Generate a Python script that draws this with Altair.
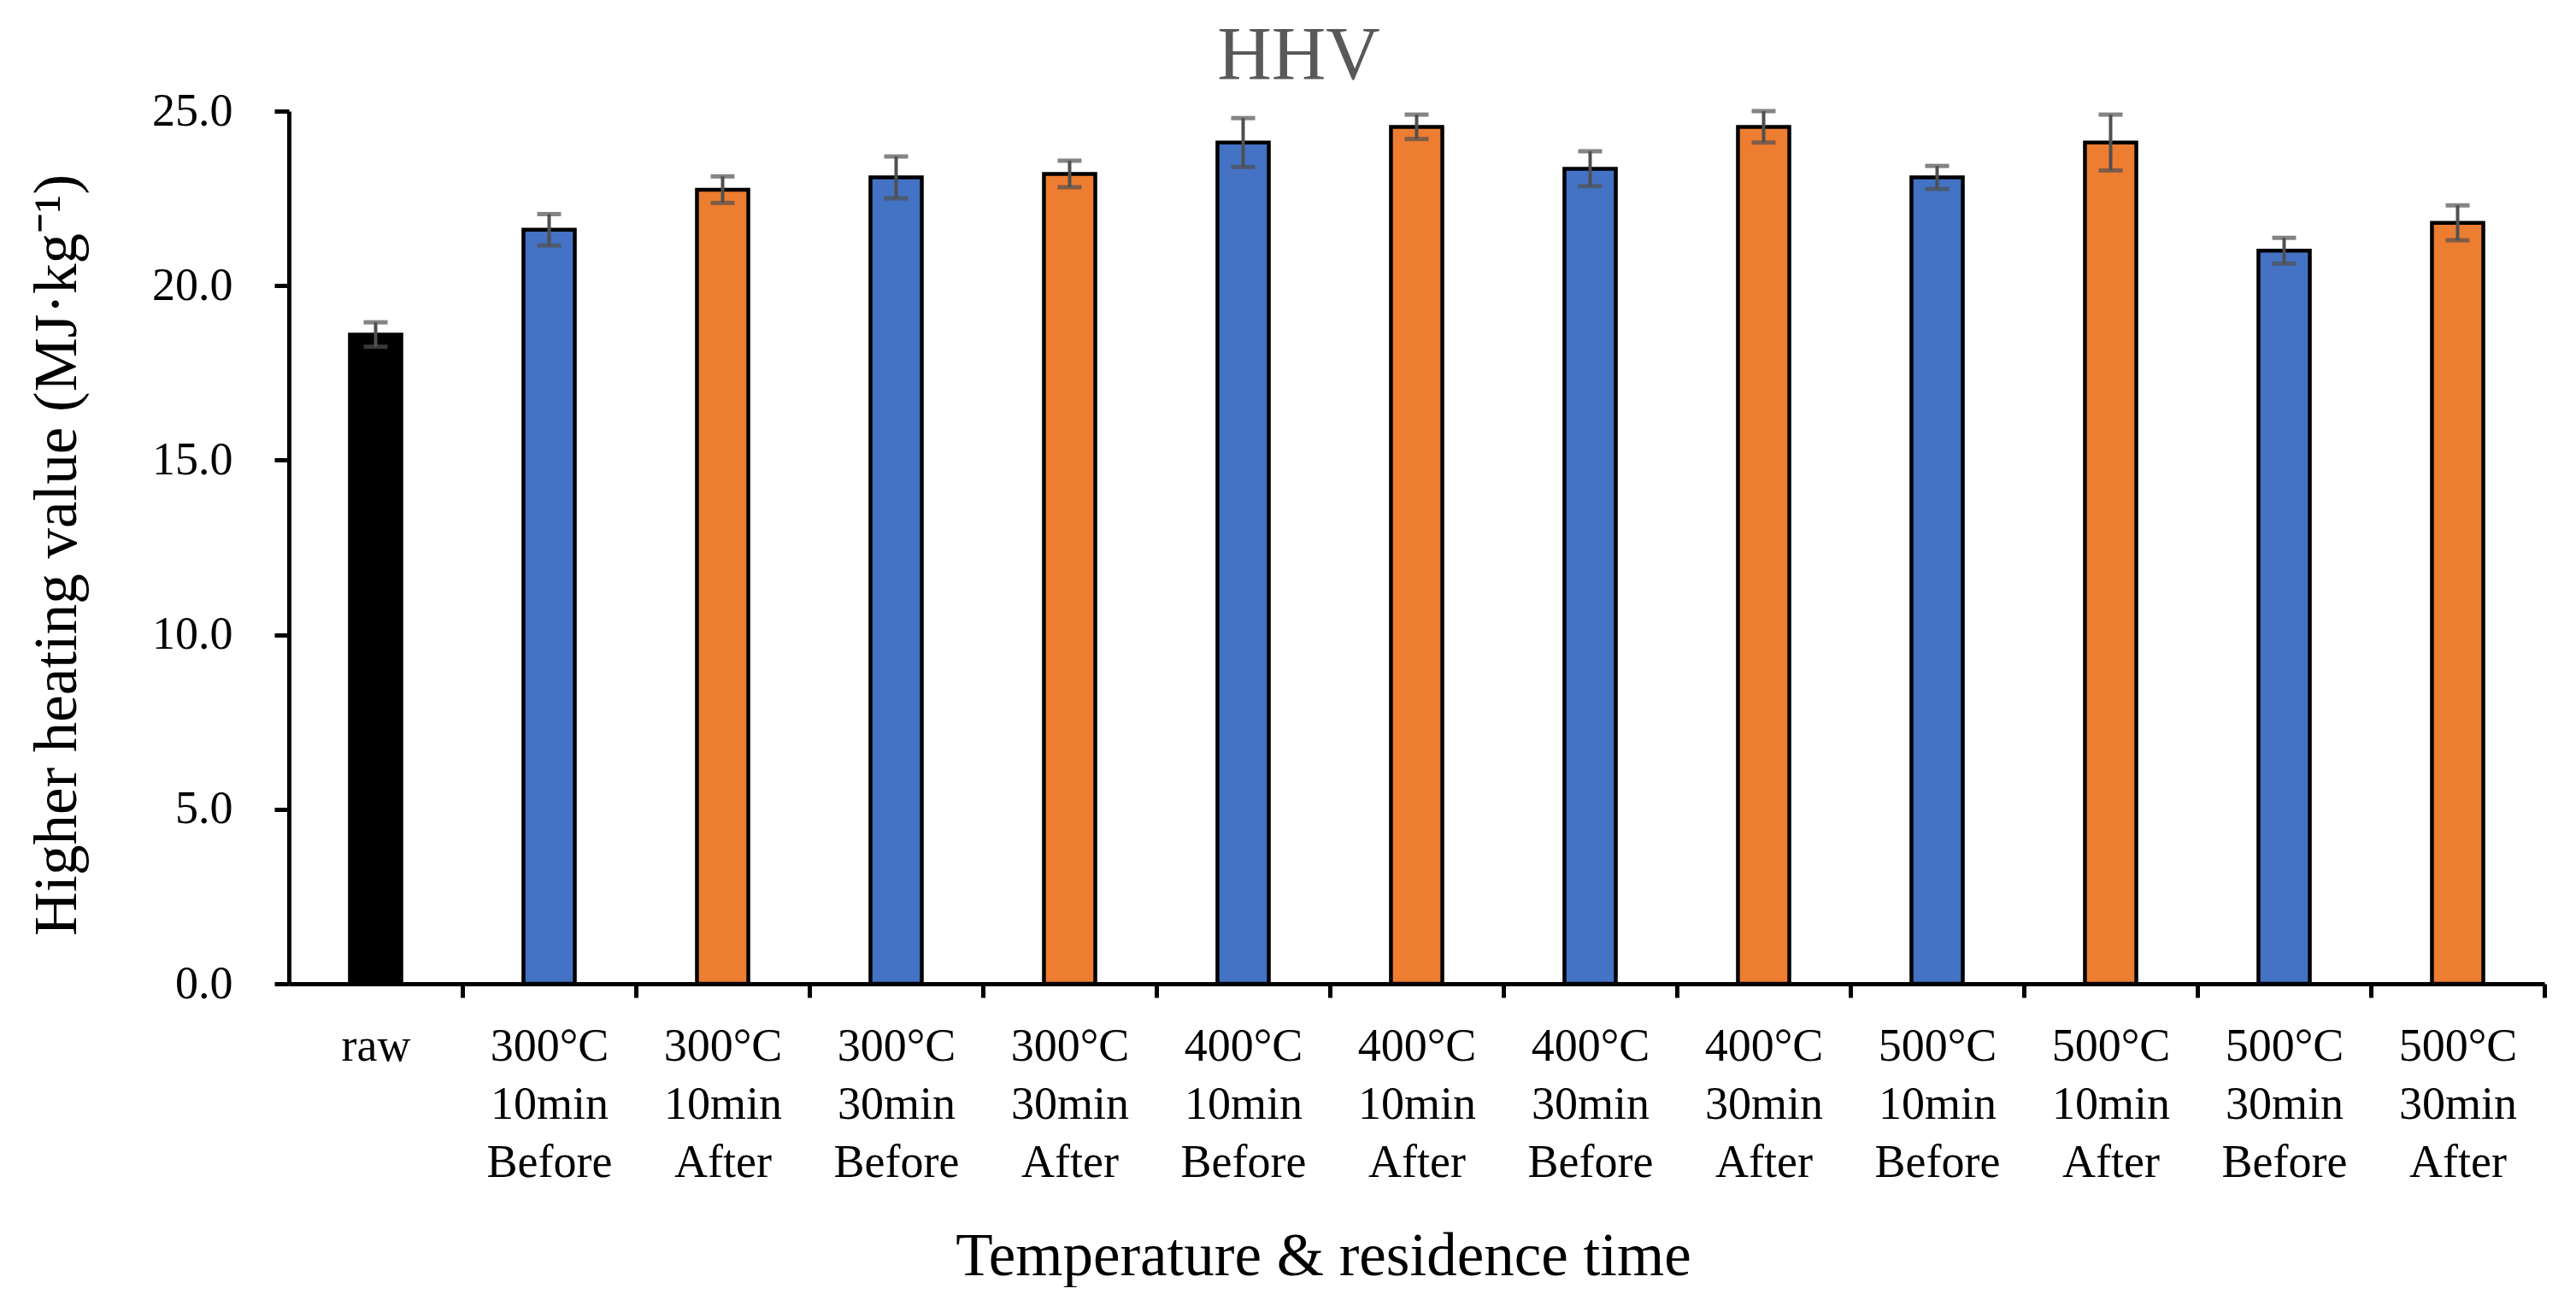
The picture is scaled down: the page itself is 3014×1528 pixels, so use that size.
import altair as alt
import pandas as pd

categories = [
    "raw",
    "300°C\n10min\nBefore", "300°C\n10min\nAfter",
    "300°C\n30min\nBefore", "300°C\n30min\nAfter",
    "400°C\n10min\nBefore", "400°C\n10min\nAfter",
    "400°C\n30min\nBefore", "400°C\n30min\nAfter",
    "500°C\n10min\nBefore", "500°C\n10min\nAfter",
    "500°C\n30min\nBefore", "500°C\n30min\nAfter",
]
groups = ["raw"] + ["Before", "After"] * 6
hhv = [18.6, 21.6, 22.75, 23.1, 23.2, 24.1, 24.55, 23.35, 24.55, 23.1, 24.1, 21.0, 21.8]
err = [0.35, 0.45, 0.38, 0.6, 0.38, 0.7, 0.35, 0.5, 0.45, 0.33, 0.8, 0.37, 0.5]

df = pd.DataFrame({"cat": categories, "group": groups, "hhv": hhv, "err": err})
df["lo"] = df["hhv"] - df["err"]
df["hi"] = df["hhv"] + df["err"]

FONT = "Liberation Serif"
W, H = 2639, 1021
STEP = W / len(categories)

x = alt.X(
    "cat:N",
    sort=categories,
    scale=alt.Scale(paddingInner=0.704, paddingOuter=0.352),
    axis=alt.Axis(
        title="Temperature & residence time",
        labelExpr="split(datum.label, '\\n')",
        labelAngle=0,
        labelFont=FONT, labelFontSize=54, labelColor="black",
        labelLineHeight=68, labelPadding=30,
        tickOffset=STEP / 2, labelOffset=-STEP / 2,
        tickSize=16, tickWidth=5, tickColor="black",
        domainColor="black", domainWidth=5,
        titleFont=FONT, titleFontSize=71, titleFontWeight="normal", titleColor="black",
        titleX=1210, titleY=340, titleBaseline="alphabetic", titleAlign="center",
        labelOverlap=False,
    ),
)

y_scale = alt.Scale(domain=[0, 25], nice=False)
y_axis = alt.Axis(
    title="Higher heating value (MJ·kg⁻¹)",
    values=[0, 5, 10, 15, 20, 25], format=".1f",
    labelFont=FONT, labelFontSize=54, labelColor="black", labelPadding=49,
    tickSize=17, tickWidth=5, tickColor="black",
    domainColor="black", domainWidth=5, grid=False,
    titleFont=FONT, titleFontSize=71, titleFontWeight="normal", titleColor="black",
    titleX=-250, titleY=519, titleBaseline="alphabetic", titleAlign="center", titleAngle=-90,
)

base = alt.Chart(df)

bars = base.mark_bar(stroke="black", strokeWidth=4.5).encode(
    x=x,
    y=alt.Y("hhv:Q", scale=y_scale, axis=y_axis),
    color=alt.Color(
        "group:N",
        scale=alt.Scale(domain=["raw", "Before", "After"], range=["#000000", "#4472C4", "#ED7D31"]),
        legend=None,
    ),
)

rule = base.mark_rule(color="#505050", strokeWidth=4).encode(
    x=alt.X("cat:N", sort=categories),
    y="lo:Q",
    y2="hi:Q",
)
cap_hi = base.mark_tick(color="#505050", size=28, thickness=5).encode(
    x=alt.X("cat:N", sort=categories),
    y="hi:Q",
)
cap_lo = base.mark_tick(color="#505050", size=28, thickness=5).encode(
    x=alt.X("cat:N", sort=categories),
    y="lo:Q",
)

chart = alt.layer(bars, rule, cap_hi, cap_lo).properties(
    width=W,
    height=H,
    title=alt.TitleParams(
        text="HHV", font=FONT, fontSize=88, fontWeight="normal", color="#595959",
        anchor="middle", dx=-138, dy=11,
    ),
    autosize=alt.AutoSizeParams(type="none"),
    padding={"left": 330, "top": 122, "right": 25, "bottom": 355},
).configure_view(stroke=None)

chart.save("out.html", embed_options={"renderer": "svg", "actions": False})
